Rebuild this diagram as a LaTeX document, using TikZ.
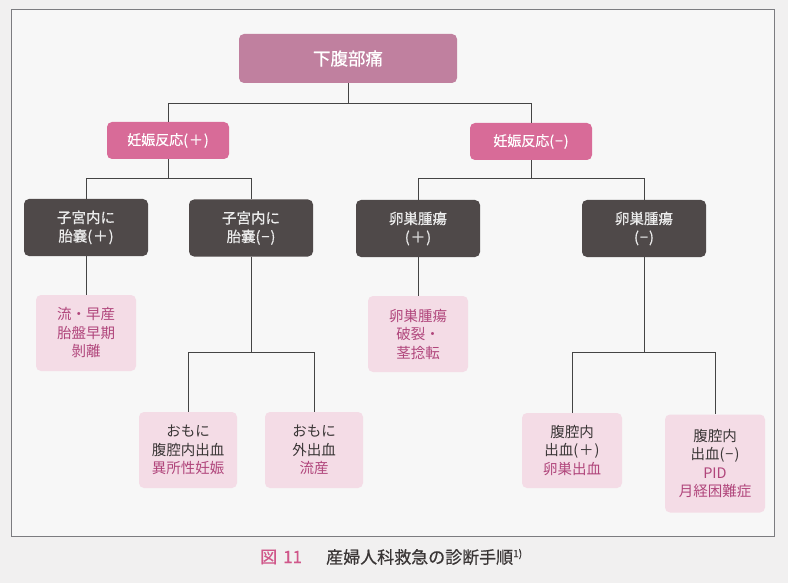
\documentclass[tikz,border=0pt]{standalone}
\usepackage{fontspec}
\setmainfont{Noto Sans CJK JP}
\newfontfamily\medfont{Noto Sans CJK JP}[FakeBold=0.6]
\definecolor{bgout}{HTML}{F1F0F0}
\definecolor{bgin}{HTML}{F7F7F7}
\definecolor{framec}{HTML}{7C7C80}
\definecolor{topc}{HTML}{C0809F}
\definecolor{pinkc}{HTML}{D86B98}
\definecolor{darkc}{HTML}{4F4949}
\definecolor{lightc}{HTML}{F4DCE6}
\definecolor{txtpink}{HTML}{B0457B}
\definecolor{txtdark}{HTML}{3A3636}
\definecolor{linec}{HTML}{444444}
\definecolor{capink}{HTML}{D0578A}
\newcommand{\posmark}{(\kern1pt＋\kern1pt)}
\newcommand{\negmark}{(\kern1pt−\kern1pt)}
\begin{document}
\begin{tikzpicture}[x=1pt,y=-1pt,
  box/.style={rounded corners=5pt, inner sep=0pt, align=center},
  topbox/.style={box, fill=topc, text=white, minimum width=218pt, minimum height=49pt, font=\medfont\fontsize{17.5}{20}\selectfont},
  pinkbox/.style={box, fill=pinkc, text=white, minimum width=122pt, minimum height=37pt, font=\medfont\fontsize{14}{16}\selectfont},
  darkbox/.style={box, fill=darkc, text=white!92!black, minimum width=124pt, minimum height=57pt, font=\medfont\fontsize{14.5}{18.5}\selectfont},
  lightbox/.style={box, fill=lightc, text=txtdark, minimum width=100pt, minimum height=76pt, font=\fontsize{14.5}{18.5}\selectfont},
  conn/.style={draw=linec, line width=0.8pt}
]
\fill[bgout] (0,0) rectangle (788,583);
\useasboundingbox (0,0) rectangle (788,583);
\fill[bgin] (11,10) rectangle (774,536);
\draw[framec, line width=1pt] (11,10) rectangle (774,536);

\node[topbox] (top) at (348,58.5) {下腹部痛};
\node[pinkbox] (p1) at (168,140.5) {妊娠反応\posmark};
\node[pinkbox] (p2) at (531,141.5) {妊娠反応\negmark};

\node[darkbox] (d1) at (86,227.5) {子宮内に\\胎嚢\posmark};
\node[darkbox] (d2) at (251,228) {子宮内に\\胎嚢\negmark};
\node[darkbox] (d3) at (418,228.5) {卵巣腫瘍\\\posmark};
\node[darkbox] (d4) at (644,228.5) {卵巣腫瘍\\\negmark};

\node[lightbox, text=txtpink] (l1) at (86,333) {流・早産\\胎盤早期\\剝離};
\node[lightbox, text=txtpink] (l2) at (418,334) {卵巣腫瘍\\破裂・\\茎捻転};
\node[lightbox, minimum width=98pt] (l3) at (188,450) {おもに\\腹腔内出血\\\textcolor{txtpink}{異所性妊娠}};
\node[lightbox, minimum width=98pt] (l4) at (314,450) {おもに\\外出血\\\textcolor{txtpink}{流産}};
\node[lightbox, minimum height=75pt] (l5) at (572,450.5) {腹腔内\\出血\posmark\\\textcolor{txtpink}{卵巣出血}};
\node[lightbox, minimum height=98pt] (l6) at (715,463.5) {腹腔内\\出血\negmark\\\textcolor{txtpink}{PID}\\\textcolor{txtpink}{月経困難症}};

\coordinate (j0) at (0,103);
\coordinate (j1) at (0,178);
\coordinate (j2) at (0,352);

\path[conn] (top.south) -- (top.south |- j0) -| (p1.north);
\path[conn] (top.south) -- (top.south |- j0) -| (p2.north);
\path[conn] (p1.south) -- (p1.south |- j1) -| (d1.north);
\path[conn] (p1.south) -- (p1.south |- j1) -| (d2.north);
\path[conn] (p2.south) -- (p2.south |- j1) -| (d3.north);
\path[conn] (p2.south) -- (p2.south |- j1) -| (d4.north);
\path[conn] (d1.south) -- (l1.north);
\path[conn] (d3.south) -- (l2.north);
\path[conn] (d2.south) -- (d2.south |- j2) -| (l3.north);
\path[conn] (d2.south) -- (d2.south |- j2) -| (l4.north);
\path[conn] (d4.south) -- (d4.south |- j2) -| (l5.north);
\path[conn] (d4.south) -- (d4.south |- j2) -| (l6.north);

\node[anchor=west, inner sep=0pt, text=capink, font=\medfont\fontsize{17}{20}\selectfont] (cap1) at (260,557) {図\hspace{6pt}11};
\node[anchor=west, inner sep=0pt, text=txtdark, font=\medfont\fontsize{17}{20}\selectfont] (cap2) at (326,557) {産婦人科救急の診断手順\textsuperscript{\fontsize{10}{11}\selectfont 1)}};
\end{tikzpicture}
\end{document}
